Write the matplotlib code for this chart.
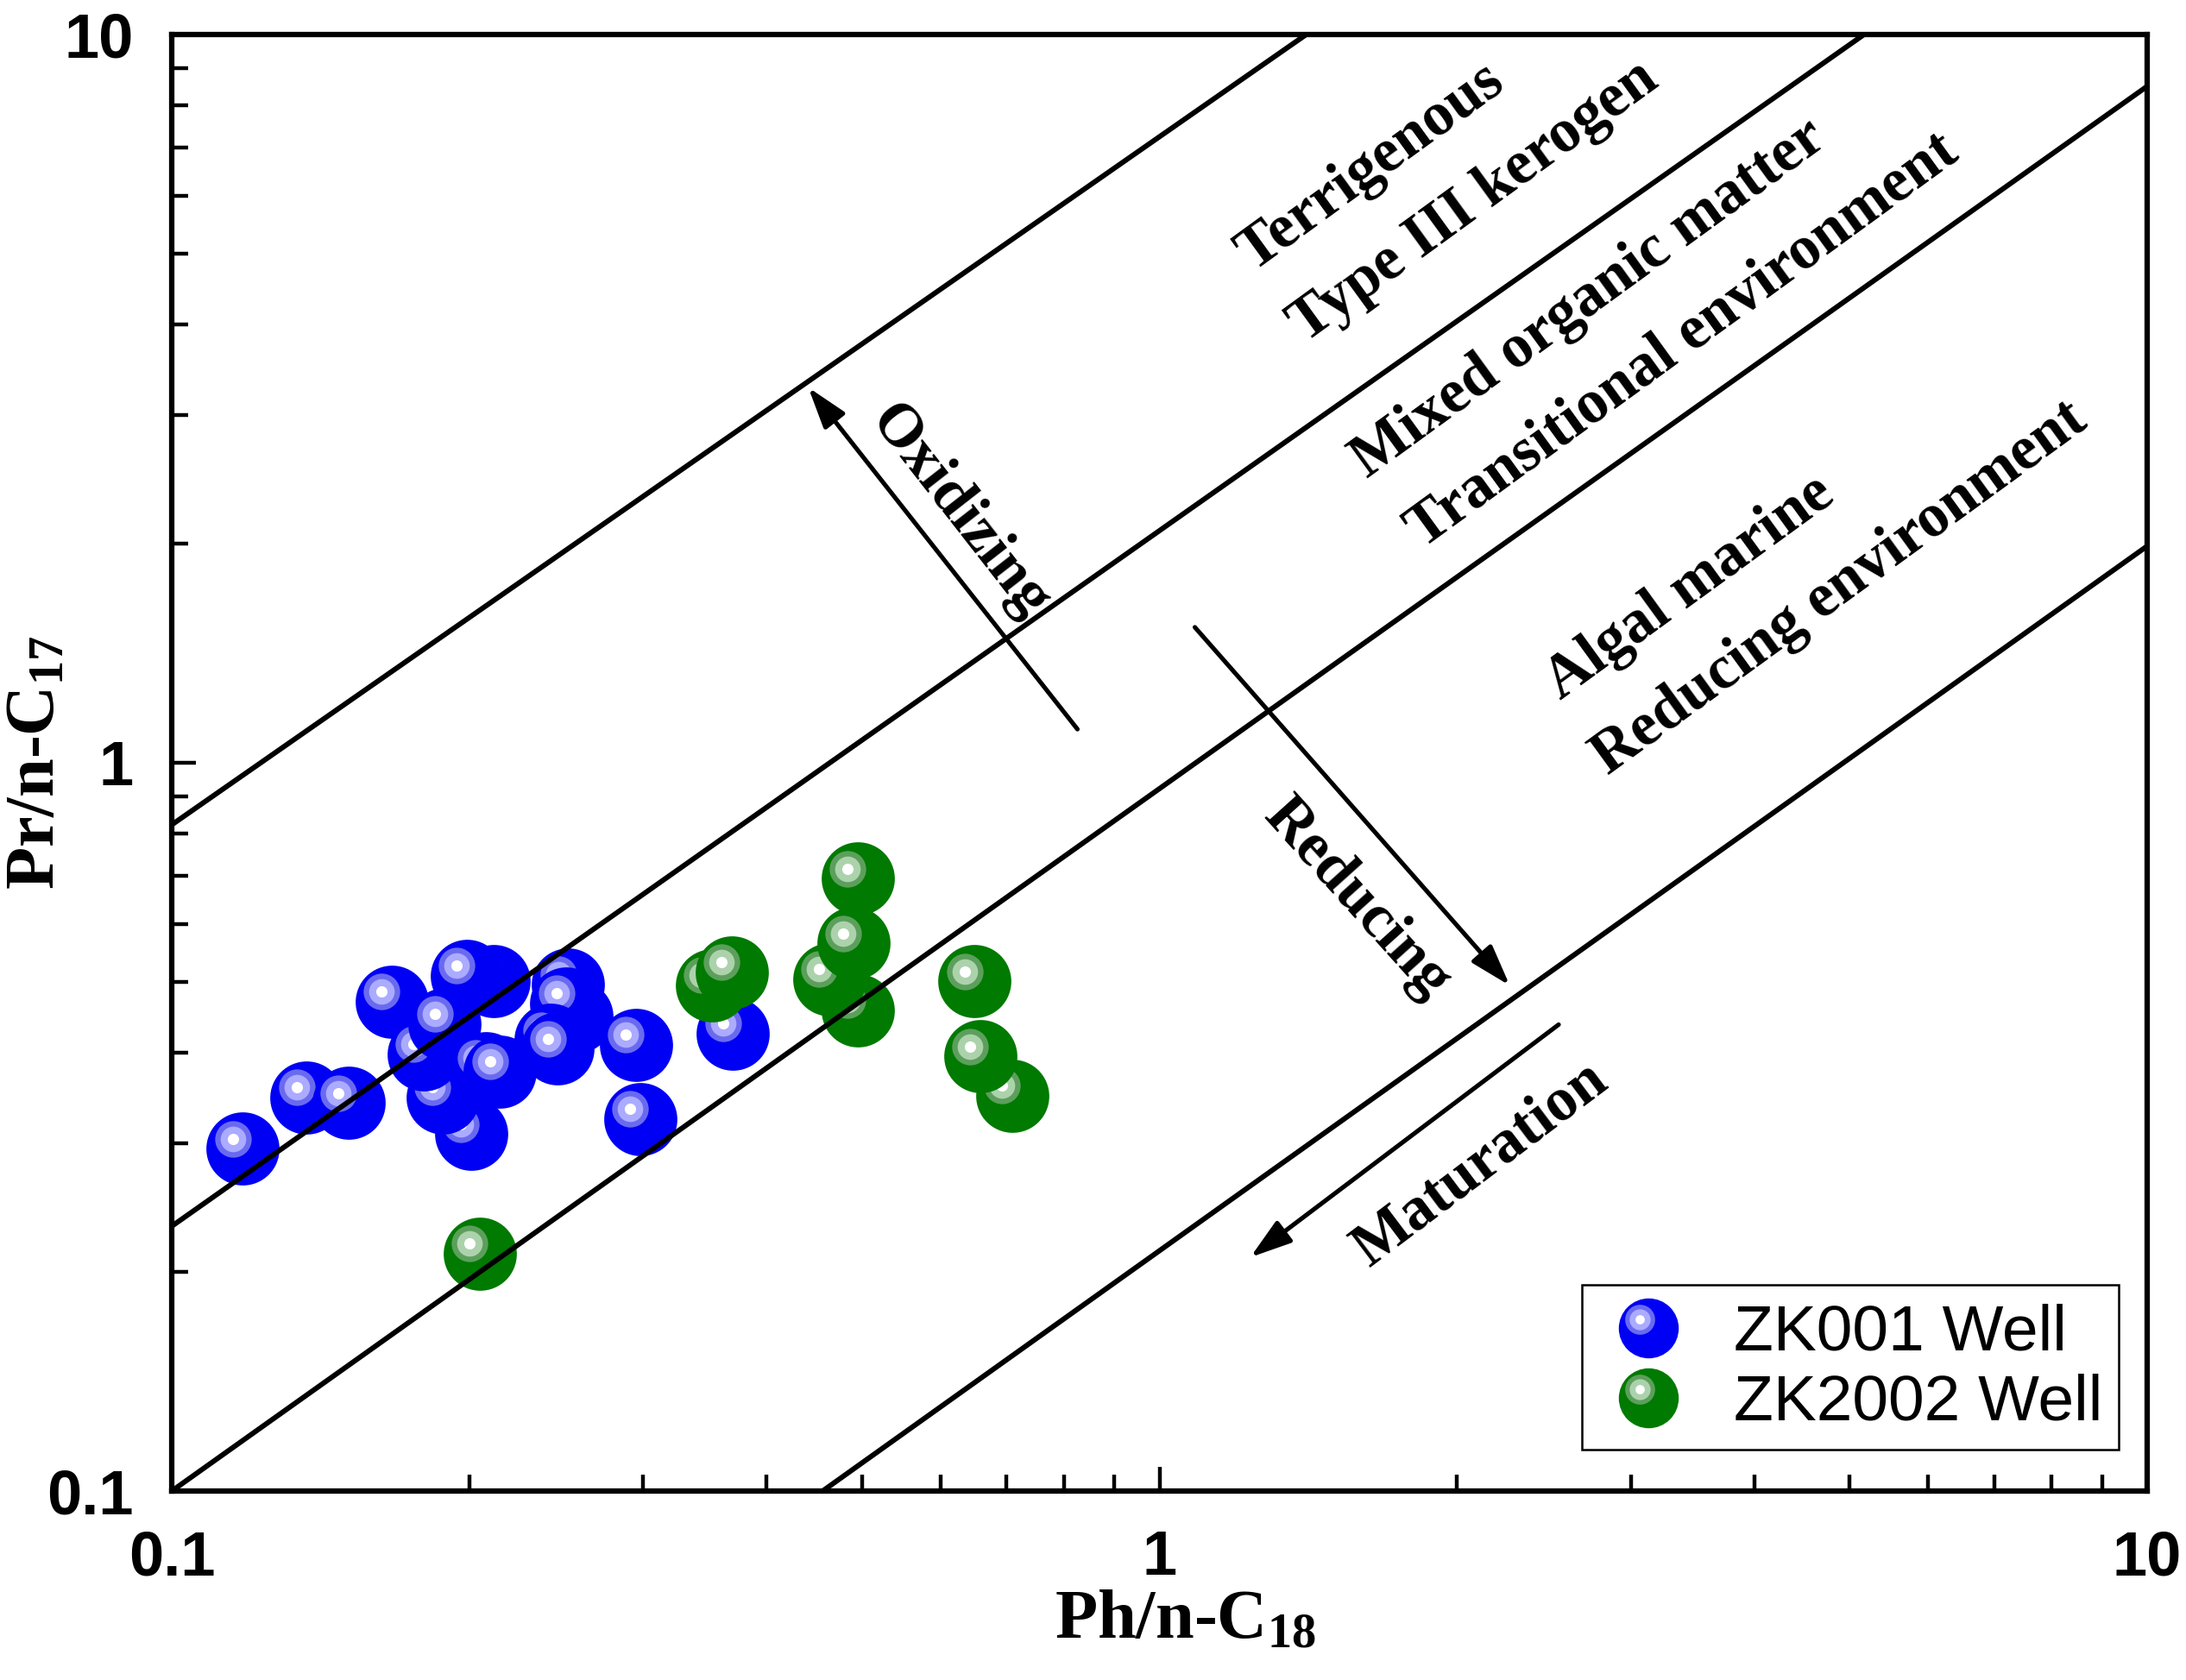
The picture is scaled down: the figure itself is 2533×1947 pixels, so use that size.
import matplotlib
matplotlib.use("Agg")
import matplotlib.pyplot as plt
from matplotlib.transforms import ScaledTranslation
from matplotlib.legend_handler import HandlerBase
from matplotlib.lines import Line2D
from matplotlib.ticker import NullFormatter, LogLocator

plt.rcParams['mathtext.fontset'] = 'custom'
plt.rcParams['mathtext.rm'] = 'Liberation Serif:bold'
plt.rcParams['mathtext.bf'] = 'Liberation Serif:bold'
plt.rcParams['mathtext.it'] = 'Liberation Serif:bold'
plt.rcParams['mathtext.default'] = 'rm'

# ---------------- data ----------------
zk001_ph = [0.118, 0.137, 0.151, 0.167, 0.212, 0.199, 0.201, 0.188, 0.180, 0.189,
            0.208, 0.215, 0.257, 0.252, 0.251, 0.242, 0.246, 0.295, 0.298, 0.370]
zk001_pr = [0.295, 0.347, 0.341, 0.470, 0.502, 0.510, 0.309, 0.347, 0.398, 0.438,
            0.381, 0.377, 0.448, 0.496, 0.467, 0.416, 0.405, 0.410, 0.324, 0.425]

zk2002_ph = [0.495, 0.463, 0.490, 0.495, 0.352, 0.369, 0.709, 0.659, 0.650, 0.205]
zk2002_pr = [0.457, 0.504, 0.565, 0.693, 0.495, 0.516, 0.349, 0.395, 0.501, 0.212]

series_names = ["ZK001 Well", "ZK2002 Well"]

# boundary lines (Ph/n-C18, Pr/n-C17 end points)
boundary_x0 = [0.1, 0.1, 0.1, 0.456]
boundary_y0 = [0.822, 0.231, 0.1, 0.1]
boundary_x1 = [1.408, 5.168, 10.0, 10.0]
boundary_y1 = [10.0, 10.0, 8.49, 1.984]

region_labels = ["Terrigenous", "Type III kerogen", "Mixed organic matter",
                 "Transitional environment", "Algal marine", "Reducing environment"]
region_x = [1.640, 2.080, 2.724, 3.386, 3.442, 4.889]
region_y = [6.574, 5.89, 4.328, 3.788, 1.737, 1.737]

arrow_labels = ["Oxidizing", "Reducing", "Maturation"]
arrow_tail_x = [0.826, 1.086, 2.536]
arrow_tail_y = [1.112, 1.535, 0.437]
arrow_head_x = [0.441, 2.263, 1.236]
arrow_head_y = [3.277, 0.4945, 0.2094]
arrow_label_x = [0.627, 1.583, 2.113]
arrow_label_y = [2.213, 0.650, 0.281]
arrow_label_rot = [-52, -48, 37]

xtick_vals = [0.1, 1, 10]
xtick_labels = ["0.1", "1", "10"]
ytick_vals = [0.1, 1, 10]
ytick_labels = ["0.1", "1", "10"]

# ---------------- figure ----------------
W, H, DPI = 2533, 1947, 100
fig = plt.figure(figsize=(W / DPI, H / DPI), dpi=DPI)
ax = fig.add_axes([199 / W, 1 - 1728 / H, 2289 / W, 1688 / H])
ax.set_xscale('log')
ax.set_yscale('log')
ax.set_xlim(0.1, 10)
ax.set_ylim(0.1, 10)

S = 61 ** 2             # marker area (pt^2)
R_in = 0.42             # marker radius in inches
off = ScaledTranslation(-0.28 * R_in, 0.28 * R_in, fig.dpi_scale_trans)
hl_trans = ax.transData + off


def draw_spheres(xs, ys, order, base, ring1, ring2, z0):
    z = z0
    for i in order:
        ax.scatter([xs[i]], [ys[i]], s=S, c=base, linewidths=0, zorder=z)
        for frac, col, dz in [(0.50, ring1, 1), (0.35, ring2, 2), (0.155, 'white', 3)]:
            ax.scatter([xs[i]], [ys[i]], s=S * frac ** 2, c=col, linewidths=0,
                       transform=hl_trans, zorder=z + dz)
        z += 4
    return z


BLUE, BLUE1, BLUE2 = '#0000f5', '#6a6af0', '#ababff'
GREEN, GREEN1, GREEN2 = '#007a00', '#5c9f5c', '#acd2ac'

z = draw_spheres(zk001_ph, zk001_pr, list(range(len(zk001_ph))), BLUE, BLUE1, BLUE2, 2)
z = draw_spheres(zk2002_ph, zk2002_pr, list(range(len(zk2002_ph))), GREEN, GREEN1, GREEN2, z)

for x0, y0, x1, y1 in zip(boundary_x0, boundary_y0, boundary_x1, boundary_y1):
    ax.plot([x0, x1], [y0, y1], color='black', lw=4.3, zorder=500, solid_capstyle='butt')

for tx, ty, hx, hy in zip(arrow_tail_x, arrow_tail_y, arrow_head_x, arrow_head_y):
    ax.annotate('', xy=(hx, hy), xytext=(tx, ty),
                arrowprops=dict(arrowstyle='-|>,head_length=1.0,head_width=0.32',
                                mutation_scale=29, lw=3.7, color='black',
                                shrinkA=0, shrinkB=0),
                zorder=500)

serif = dict(family='Liberation Serif', weight='bold')
for lab, x, y in zip(region_labels, region_x, region_y):
    ax.text(x, y, lab, rotation=36, ha='center', va='center', rotation_mode='anchor',
            fontsize=51, zorder=600, **serif)
for lab, x, y, r in zip(arrow_labels, arrow_label_x, arrow_label_y, arrow_label_rot):
    ax.text(x, y, lab, rotation=r, ha='center', va='center', rotation_mode='anchor',
            fontsize=51, zorder=600, **serif)

# ---------------- axes styling ----------------
for sp in ax.spines.values():
    sp.set_linewidth(4.5)
ax.set_xticks(xtick_vals, labels=xtick_labels)
ax.set_yticks(ytick_vals, labels=ytick_labels)
ax.xaxis.set_minor_locator(LogLocator(base=10, subs=range(2, 10)))
ax.yaxis.set_minor_locator(LogLocator(base=10, subs=range(2, 10)))
ax.xaxis.set_minor_formatter(NullFormatter())
ax.yaxis.set_minor_formatter(NullFormatter())
ax.tick_params(which='both', direction='in', top=False, right=False, width=3.2)
ax.tick_params(which='major', length=20, pad=32)
ax.tick_params(which='minor', length=14)
for t in ax.get_xticklabels() + ax.get_yticklabels():
    t.set_fontfamily('Liberation Sans')
    t.set_fontweight('bold')
    t.set_fontsize(52)

ax.set_xlabel('Ph/n-C$_{18}$', fontsize=58, **serif)
ax.set_ylabel('Pr/n-C$_{17}$', fontsize=58, **serif)
ax.xaxis.set_label_coords(0.513, -0.068)
ax.yaxis.set_label_coords(-0.052, 0.5)


# ---------------- legend ----------------
class SphereHandler(HandlerBase):
    def __init__(self, base, r1, r2, ms):
        super().__init__()
        self.cols = (base, r1, r2)
        self.ms = ms

    def create_artists(self, legend, orig_handle, xdescent, ydescent, width, height,
                       fontsize, trans):
        cx = width / 2 - xdescent
        cy = height / 2 - ydescent
        base, r1, r2 = self.cols
        d = 0.28 * self.ms / 2
        arts = []
        for frac, col, o in [(1.0, base, 0), (0.50, r1, 1), (0.35, r2, 1), (0.155, 'white', 1)]:
            ln = Line2D([cx - d * o], [cy + d * o], marker='o', markersize=self.ms * frac,
                        color=col, markeredgewidth=0, linestyle='none')
            ln.set_transform(trans)
            arts.append(ln)
        return arts


h1 = Line2D([], [], marker='o', linestyle='none')
h2 = Line2D([], [], marker='o', linestyle='none')
leg = ax.legend([h1, h2], series_names,
                handler_map={h1: SphereHandler(BLUE, BLUE1, BLUE2, 50),
                             h2: SphereHandler(GREEN, GREEN1, GREEN2, 50)},
                loc='upper left', bbox_to_anchor=((1833 - 199) / 2289, (1728 - 1489) / 1688),
                borderaxespad=0, frameon=True, fancybox=False, framealpha=1,
                edgecolor='black', prop=dict(family='Liberation Sans', size=54),
                handlelength=1.55, handletextpad=0.55, borderpad=0.25, labelspacing=0.12,
                handleheight=0.9)
leg.get_frame().set_linewidth(1.8)
leg.set_zorder(1000)

fig.savefig('out.png', dpi=DPI, facecolor='white')
